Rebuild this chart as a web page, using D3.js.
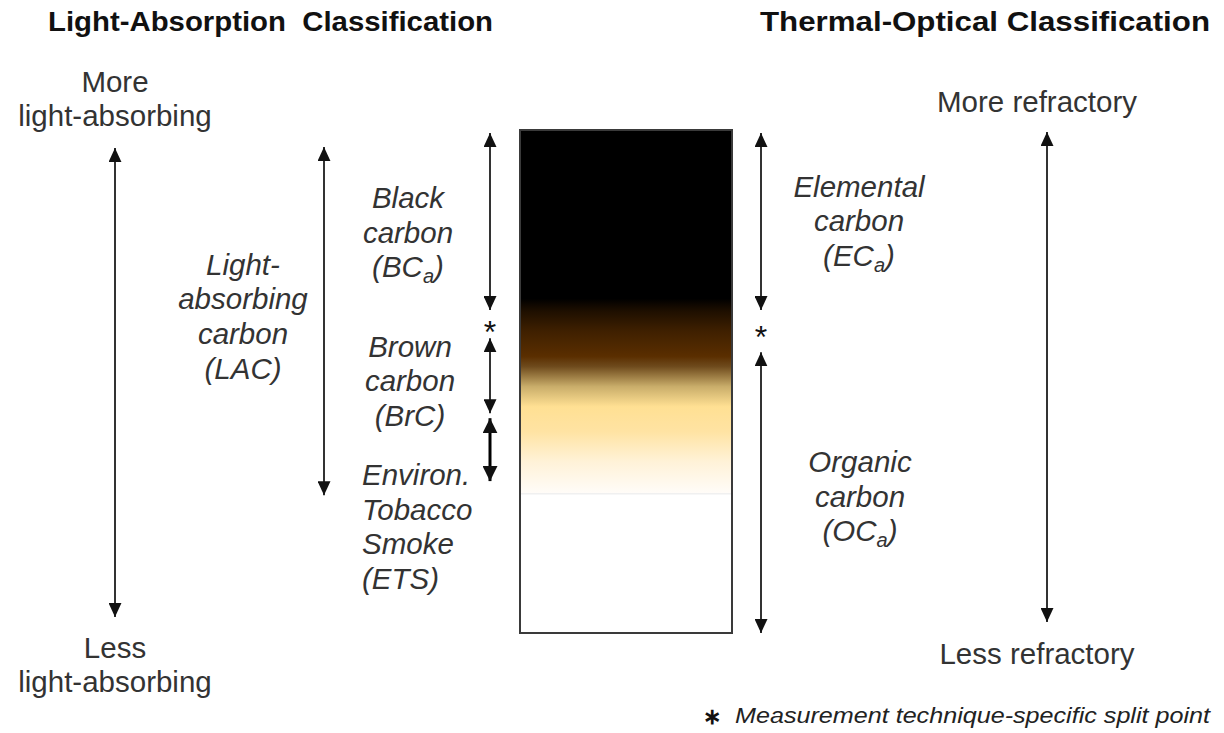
<!DOCTYPE html>
<html>
<head>
<meta charset="utf-8">
<script src="https://cdn.jsdelivr.net/npm/d3@7"></script>
<style>
  body { margin: 0; background: #fff; }
  svg text { font-family: "Liberation Sans", Arial, sans-serif; white-space: pre; }
</style>
</head>
<body>
<div id="main"></div>
<script>
// vertical position is expressed in "depth" units: 0 = top of the bar, 100 = bottom
var gradientStops = [
  {offset: 0,    color: "#000000"},
  {offset: 0.335, color: "#000000"},
  {offset: 0.36, color: "#1e0f00"},
  {offset: 0.40, color: "#3f2000"},
  {offset: 0.45, color: "#5a2e00"},
  {offset: 0.47, color: "#6e4a1c"},
  {offset: 0.51, color: "#c9ad6a"},
  {offset: 0.55, color: "#ffe093"},
  {offset: 0.60, color: "#ffe3a3"},
  {offset: 0.66, color: "#fff2d8"},
  {offset: 0.722, color: "#fffcf8"},
  {offset: 0.723, color: "#ffffff"},
  {offset: 1,    color: "#ffffff"}
];

// arrows: column, start depth, end depth
var arrows = [
  {col: "farLeft",  from: 3.6, to: 96.8, heavy: false},
  {col: "lac",      from: 3.4, to: 72.6, heavy: false},
  {col: "inner",    from: 0.6, to: 35.8, heavy: false},
  {col: "inner",    from: 41.4, to: 56.3, heavy: false},
  {col: "inner",    from: 57.3, to: 69.8, heavy: true},
  {col: "ec",       from: 0.6, to: 35.8, heavy: false},
  {col: "ec",       from: 44.2, to: 100, heavy: false},
  {col: "farRight", from: 0.4, to: 97.8, heavy: false}
];

var splitPoints = [
  {col: "inner", depth: 38.9},
  {col: "ec",    depth: 40.0}
];

var scaleLabels = [
  {col: "farLeftText",  lines: ["More", "light-absorbing"], depth: -7.6},
  {col: "farLeftText",  lines: ["Less", "light-absorbing"], depth: 104.9},
  {col: "farRightText", lines: ["More refractory"], depth: -3.6},
  {col: "farRightText", lines: ["Less refractory"], depth: 106.2}
];

var classLabels = [
  {col: "lacText", lines: ["Light-", "absorbing", "carbon", "(LAC)"], depth: 28.8, anchor: "middle"},
  {col: "bcText",  lines: ["Black", "carbon", ["(BC", "a", ")"]], depth: 15.5, anchor: "middle"},
  {col: "brcText", lines: ["Brown", "carbon", "(BrC)"], depth: 45.1, anchor: "middle"},
  {col: "etsText", lines: ["Environ.", "Tobacco", "Smoke", "(ETS)"], depth: 70.6, anchor: "start"},
  {col: "ecText",  lines: ["Elemental", "carbon", ["(EC", "a", ")"]], depth: 13.3, anchor: "middle"},
  {col: "ocText",  lines: ["Organic", "carbon", ["(OC", "a", ")"]], depth: 68.0, anchor: "middle"}
];

var titles = ["Light-Absorption  Classification", "Thermal-Optical Classification"];
var footnote = "Measurement technique-specific split point";

var W = 1224, H = 733;
var barLeft = 520, barRight = 732, barTop = 130, barBottom = 633;
var lineGap = 34.6;
var labelSize = 29.5;

var svg = d3.select("#main")
  .append("svg")
    .attr("width", W)
    .attr("height", H);

var y = d3.scaleLinear().domain([0, 100]).range([barTop, barBottom]);

var x = d3.scaleOrdinal()
  .domain(["farLeft", "farLeftText", "lac", "lacText", "inner", "bcText", "brcText", "etsText",
           "ec", "ecText", "ocText", "farRight", "farRightText"])
  .range([115, 115, 324, 243, 490, 408, 410, 362, 761, 859, 860, 1047, 1037]);

// gradient for the bar
var defs = svg.append("defs");
var grad = defs.append("linearGradient")
  .attr("id", "carbonGrad")
  .attr("x1", 0).attr("y1", 0).attr("x2", 0).attr("y2", 1);
grad.selectAll("stop")
  .data(gradientStops)
  .enter().append("stop")
    .attr("offset", function(d) { return d.offset; })
    .attr("stop-color", function(d) { return d.color; });

// arrow heads
function addMarker(id, w, h) {
  defs.append("marker")
    .attr("id", id)
    .attr("viewBox", "0 0 " + h + " " + w)
    .attr("refX", h).attr("refY", w / 2)
    .attr("markerUnits", "userSpaceOnUse")
    .attr("markerWidth", h).attr("markerHeight", w)
    .attr("orient", "auto-start-reverse")
    .append("path")
      .attr("d", "M0,0L" + h + "," + (w / 2) + "L0," + w + "Z")
      .attr("fill", "#111");
}
addMarker("head", 13, 14);
addMarker("headBig", 15, 15);

svg.append("rect")
  .attr("x", barLeft).attr("y", y(0))
  .attr("width", barRight - barLeft)
  .attr("height", y(100) - y(0))
  .attr("fill", "url(#carbonGrad)")
  .attr("stroke", "#3a3a3a")
  .attr("stroke-width", 2);

svg.append("line")
  .attr("x1", barLeft + 1).attr("x2", barRight - 1)
  .attr("y1", y(72.3)).attr("y2", y(72.3))
  .attr("stroke", "#f0f0f0")
  .attr("stroke-width", 1.5);

svg.selectAll(".arrow")
  .data(arrows)
  .enter().append("line")
    .attr("class", "arrow")
    .attr("x1", function(d) { return x(d.col); })
    .attr("x2", function(d) { return x(d.col); })
    .attr("y1", function(d) { return y(d.from); })
    .attr("y2", function(d) { return y(d.to); })
    .attr("stroke", function(d) { return d.heavy ? "#000" : "#333"; })
    .attr("stroke-width", function(d) { return d.heavy ? 3 : 2; })
    .attr("marker-start", function(d) { return d.heavy ? "url(#headBig)" : "url(#head)"; })
    .attr("marker-end", function(d) { return d.heavy ? "url(#headBig)" : "url(#head)"; });

svg.selectAll(".split")
  .data(splitPoints)
  .enter().append("text")
    .attr("class", "split")
    .attr("x", function(d) { return x(d.col); })
    .attr("y", function(d) { return y(d.depth) + 17; })
    .attr("text-anchor", "middle")
    .attr("font-size", 32)
    .attr("fill", "#111")
    .text("*");

// multi-line labels
function drawLabels(data, italic) {
  data.forEach(function(d) {
    var t = svg.append("text")
      .attr("text-anchor", d.anchor || "middle")
      .attr("font-size", labelSize)
      .attr("font-style", italic ? "italic" : "normal")
      .attr("fill", "#333");
    d.lines.forEach(function(line, i) {
      var yy = y(d.depth) + i * lineGap;
      if (typeof line === "string") {
        t.append("tspan").attr("x", x(d.col)).attr("y", yy).text(line);
      } else {
        t.append("tspan").attr("x", x(d.col)).attr("y", yy).text(line[0]);
        t.append("tspan").attr("dy", 6).attr("font-size", 20).text(line[1]);
        t.append("tspan").attr("dy", -6).text(line[2]);
      }
    });
  });
}
drawLabels(scaleLabels, false);
drawLabels(classLabels, true);

// titles
svg.selectAll(".title")
  .data(titles)
  .enter().append("text")
    .attr("class", "title")
    .attr("x", function(d, i) { return i === 0 ? 48 : 760; })
    .attr("y", 31)
    .attr("font-size", 27)
    .attr("font-weight", "bold")
    .attr("fill", "#111")
    .attr("textLength", function(d, i) { return i === 0 ? 445 : 450; })
    .attr("lengthAdjust", "spacingAndGlyphs")
    .text(function(d) { return d; });

// footnote
svg.append("text")
  .attr("x", 712).attr("y", 724)
  .attr("text-anchor", "middle")
  .attr("font-size", 22)
  .attr("font-weight", "bold")
  .attr("fill", "#111")
  .text("\u2217");
svg.append("text")
  .attr("x", 735).attr("y", 723)
  .attr("font-size", 22)
  .attr("font-style", "italic")
  .attr("fill", "#222")
  .attr("textLength", 475)
  .attr("lengthAdjust", "spacingAndGlyphs")
  .text(footnote);
</script>
</body>
</html>
